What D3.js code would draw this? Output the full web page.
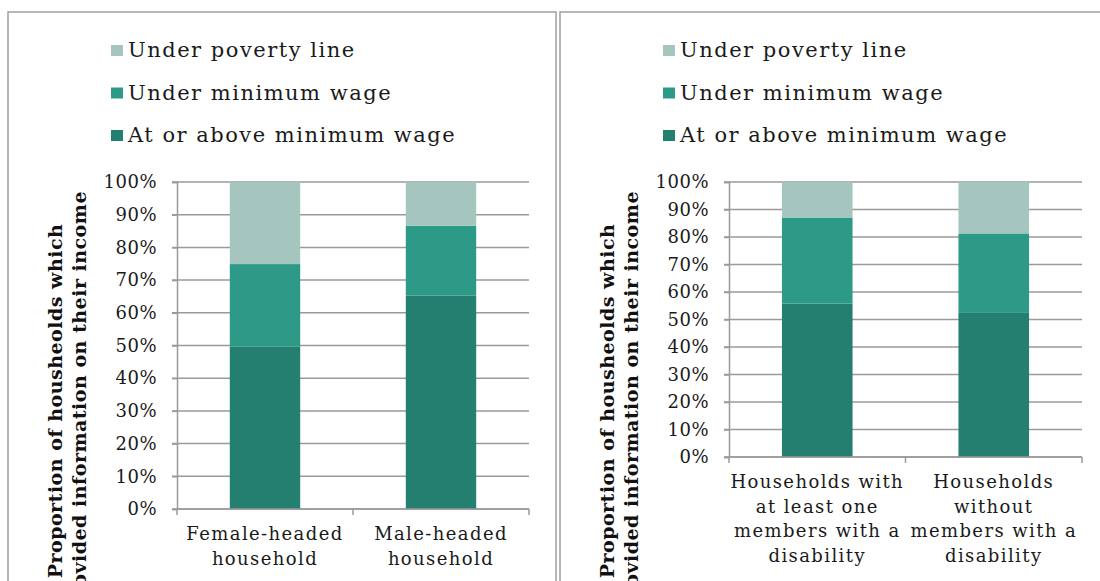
<!DOCTYPE html>
<html>
<head>
<meta charset="utf-8">
<script src="https://cdn.jsdelivr.net/npm/d3@7"></script>
<style>
  body { margin: 0; background: #fff; }
  svg { display: block; }
  .tick text { font-family: "DejaVu Serif", serif; font-size: 18px; letter-spacing: 0.5px; fill: #1a1a1a; }
</style>
</head>
<body>
<script>
// series names, bottom to top of each bar
var seriesNames = ["At or above minimum wage", "Under minimum wage", "Under poverty line"];
var seriesColors = ["#247f70", "#2c9a87", "#a4c6be"];

// left chart: household head
var leftCategories = [["Female-headed", "household"], ["Male-headed", "household"]];
var leftAbove   = [0.497, 0.653];
var leftUnder   = [0.252, 0.213];
var leftPoverty = [0.251, 0.134];

// right chart: disability
var rightCategories = [["Households with", "at least one", "members with a", "disability"],
                       ["Households", "without", "members with a", "disability"]];
var rightAbove   = [0.558, 0.524];
var rightUnder   = [0.313, 0.289];
var rightPoverty = [0.129, 0.187];

var yTicks = [0, 0.1, 0.2, 0.3, 0.4, 0.5, 0.6, 0.7, 0.8, 0.9, 1];
var yTitle = ["Proportion of housheolds which", "provided information on their income"];

var W = 1100, H = 581;

var svg = d3.select("body").append("svg")
    .attr("width", W)
    .attr("height", H);

function drawPanel(p) {
    var g = svg.append("g").attr("transform", "translate(" + p.left + ",0)");

    // frame of the panel (bottom runs off the picture)
    g.append("path")
        .attr("d", "M0," + (H + 5) + "V12H" + p.frameW + "V" + (H + 5))
        .attr("fill", "none")
        .attr("stroke", "#a0a0a0")
        .attr("stroke-width", 1.5);

    // legend
    var leg = g.append("g").attr("transform", "translate(" + p.legX + ",0)");
    [2, 1, 0].forEach(function(s, i) {
        var yy = 57 + i * 42.5;
        leg.append("rect")
            .attr("x", 0).attr("y", yy - 12)
            .attr("width", 12).attr("height", 11)
            .attr("fill", seriesColors[s]);
        leg.append("text")
            .attr("x", 17).attr("y", yy)
            .style("font-family", "DejaVu Serif, serif")
            .style("font-size", "21px")
            .style("letter-spacing", "1.5px")
            .style("fill", "#1a1a1a")
            .text(seriesNames[s]);
    });

    var x = d3.scaleBand()
        .domain(d3.range(p.cats.length))
        .range([p.x0, p.x1])
        .padding(0);

    var y = d3.scaleLinear()
        .domain([0, 1])
        .range([p.y0, 182]);

    // gridlines
    g.append("g").selectAll("line")
        .data(yTicks)
        .enter().append("line")
        .attr("x1", p.x0 - 5).attr("x2", p.x1)
        .attr("y1", function(d) { return y(d); })
        .attr("y2", function(d) { return y(d); })
        .attr("stroke", "#9a9a9a")
        .attr("stroke-width", 1.5);

    // stacked bars
    var rows = p.cats.map(function(c, i) {
        return { idx: i, a: p.above[i], u: p.under[i], v: p.poverty[i] };
    });
    var stacked = d3.stack().keys(["a", "u", "v"])(rows);
    var bw = x.bandwidth() * 0.4;

    g.append("g").selectAll("g")
        .data(stacked)
        .enter().append("g")
        .attr("fill", function(d, i) { return seriesColors[i]; })
        .selectAll("rect")
        .data(function(d) { return d; })
        .enter().append("rect")
        .attr("x", function(d) { return x(d.data.idx) + (x.bandwidth() - bw) / 2; })
        .attr("width", bw)
        .attr("y", function(d) { return y(d[1]); })
        .attr("height", function(d) { return y(d[0]) - y(d[1]); });

    // y axis
    var yAxis = g.append("g")
        .attr("transform", "translate(" + p.x0 + ",0)")
        .call(d3.axisLeft(y).tickValues(yTicks).tickFormat(d3.format(".0%")).tickSize(5).tickPadding(15));
    yAxis.select(".domain").attr("stroke", "#9a9a9a").attr("stroke-width", 1.5);
    yAxis.selectAll(".tick line").attr("stroke", "#9a9a9a").attr("stroke-width", 1.5);

    // x axis: ticks between categories
    var xb = g.append("g").attr("transform", "translate(0," + p.y0 + ")");
    xb.append("line")
        .attr("x1", p.x0).attr("x2", p.x1)
        .attr("stroke", "#9a9a9a").attr("stroke-width", 1.5);
    xb.selectAll("line.tk")
        .data(d3.range(p.cats.length + 1))
        .enter().append("line")
        .attr("class", "tk")
        .attr("x1", function(d) { return p.x0 + d * x.step(); })
        .attr("x2", function(d) { return p.x0 + d * x.step(); })
        .attr("y1", 0).attr("y2", 6)
        .attr("stroke", "#9a9a9a").attr("stroke-width", 1.5);

    xb.selectAll("text.cat")
        .data(p.cats)
        .enter().append("text")
        .attr("class", "cat")
        .attr("text-anchor", "middle")
        .attr("x", function(d, i) { return x(i) + x.bandwidth() / 2; })
        .attr("y", 31)
        .style("font-family", "DejaVu Serif, serif")
        .style("font-size", "18px")
        .style("letter-spacing", "1.4px")
        .style("fill", "#1a1a1a")
        .selectAll("tspan")
        .data(function(d) { return d; })
        .enter().append("tspan")
        .attr("x", function() { return d3.select(this.parentNode).attr("x"); })
        .attr("dy", function(d, i) { return i === 0 ? 0 : 24.5; })
        .text(function(d) { return d; });

    // y title, two lines
    yTitle.forEach(function(t, i) {
        g.append("text")
            .attr("transform", "translate(" + (54 + i * 24) + ",401) rotate(-90)")
            .attr("text-anchor", "middle")
            .style("font-family", "DejaVu Serif, serif")
            .style("font-weight", "bold")
            .style("font-size", "19px")
            .style("letter-spacing", "0.5px")
            .style("fill", "#111")
            .text(t);
    });
}

drawPanel({
    left: 8, frameW: 548, legX: 103,
    x0: 169, x1: 521, y0: 509,
    cats: leftCategories, above: leftAbove, under: leftUnder, poverty: leftPoverty
});

drawPanel({
    left: 560, frameW: 560, legX: 103,
    x0: 169, x1: 522, y0: 457,
    cats: rightCategories, above: rightAbove, under: rightUnder, poverty: rightPoverty
});
</script>
</body>
</html>
